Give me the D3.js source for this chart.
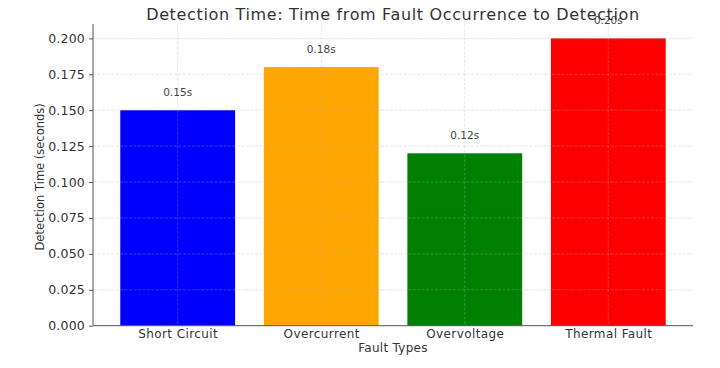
<!DOCTYPE html>
<html><head><meta charset="utf-8">
<script src="https://cdn.jsdelivr.net/npm/d3@7"></script>
<style>body{margin:0;background:#fff}svg{display:block}text{font-family:"DejaVu Sans",sans-serif}</style>
</head><body>
<svg id="c" width="720" height="368"></svg>
<script>
const categories = ["Short Circuit","Overcurrent","Overvoltage","Thermal Fault"];
const values = [0.15, 0.18, 0.12, 0.20];
const labels = ["0.15s","0.18s","0.12s","0.20s"];
const colors = ["#0000ff","#ffa500","#008000","#ff0000"];
const yTicks = [0,0.025,0.05,0.075,0.1,0.125,0.15,0.175,0.2];

const svg = d3.select("#c");
const L=93, R=693, T=24, B=325.7;
const x = d3.scaleLinear().domain([-0.59, categories.length-1+0.59]).range([L,R]);
const y = d3.scaleLinear().domain([0,0.21]).range([B,T]);
const bw = x(0.4)-x(-0.4);

svg.selectAll("rect.bar").data(values).join("rect").attr("class","bar")
  .attr("x",(d,i)=>x(i)-bw/2).attr("width",bw)
  .attr("y",d=>y(d)).attr("height",d=>B-y(d)).attr("fill",(d,i)=>colors[i]);

// grid
const g = svg.append("g").attr("stroke","#b0b0b0").attr("stroke-opacity",0.4).attr("stroke-width",0.8).attr("stroke-dasharray","3,1.5");
g.selectAll("line.h").data(yTicks).join("line").attr("x1",L).attr("x2",R).attr("y1",d=>y(d)).attr("y2",d=>y(d));
g.selectAll("line.v").data(categories).join("line").attr("x1",(d,i)=>x(i)).attr("x2",(d,i)=>x(i)).attr("y1",T).attr("y2",B);

// axes
const ya = svg.append("g").attr("transform",`translate(${L},0)`)
  .call(d3.axisLeft(y).tickValues(yTicks).tickFormat(d3.format(".3f")).tickSize(4).tickPadding(4));
ya.select(".domain").attr("d",`M0,${T}V${B}`).attr("stroke","#555");
ya.selectAll(".tick line").attr("stroke","#555");
ya.selectAll("text").attr("font-size",12.5).attr("fill","#333").attr("font-family","DejaVu Sans").attr("letter-spacing",0.2);

const xa = svg.append("g").attr("transform",`translate(0,${B})`)
  .call(d3.axisBottom(x).tickValues(d3.range(categories.length)).tickFormat(i=>categories[i]).tickSize(0).tickPadding(4));
xa.select(".domain").attr("d",`M${L},0H${R}`).attr("stroke","#555");
xa.selectAll("text").attr("font-size",12).attr("fill","#333").attr("font-family","DejaVu Sans").attr("letter-spacing",0.4);

// value labels
svg.selectAll("text.val").data(values).join("text").attr("class","val")
  .attr("x",(d,i)=>x(i)).attr("y",d=>y(d+0.01)).attr("text-anchor","middle")
  .attr("font-size",10.5).attr("fill","#444").text((d,i)=>labels[i]);

svg.append("text").attr("x",(L+R)/2).attr("y",20).attr("text-anchor","middle")
  .attr("font-size",16).attr("letter-spacing",0.65).attr("fill","#333").text("Detection Time: Time from Fault Occurrence to Detection");
svg.append("text").attr("x",(L+R)/2).attr("y",352).attr("text-anchor","middle")
  .attr("font-size",12).attr("letter-spacing",0.3).attr("fill","#333").text("Fault Types");
svg.append("text").attr("transform",`translate(44,${(T+B)/2+2}) rotate(-90)`).attr("text-anchor","middle")
  .attr("font-size",11.5).attr("fill","#333").text("Detection Time (seconds)");
</script>
</body></html>
